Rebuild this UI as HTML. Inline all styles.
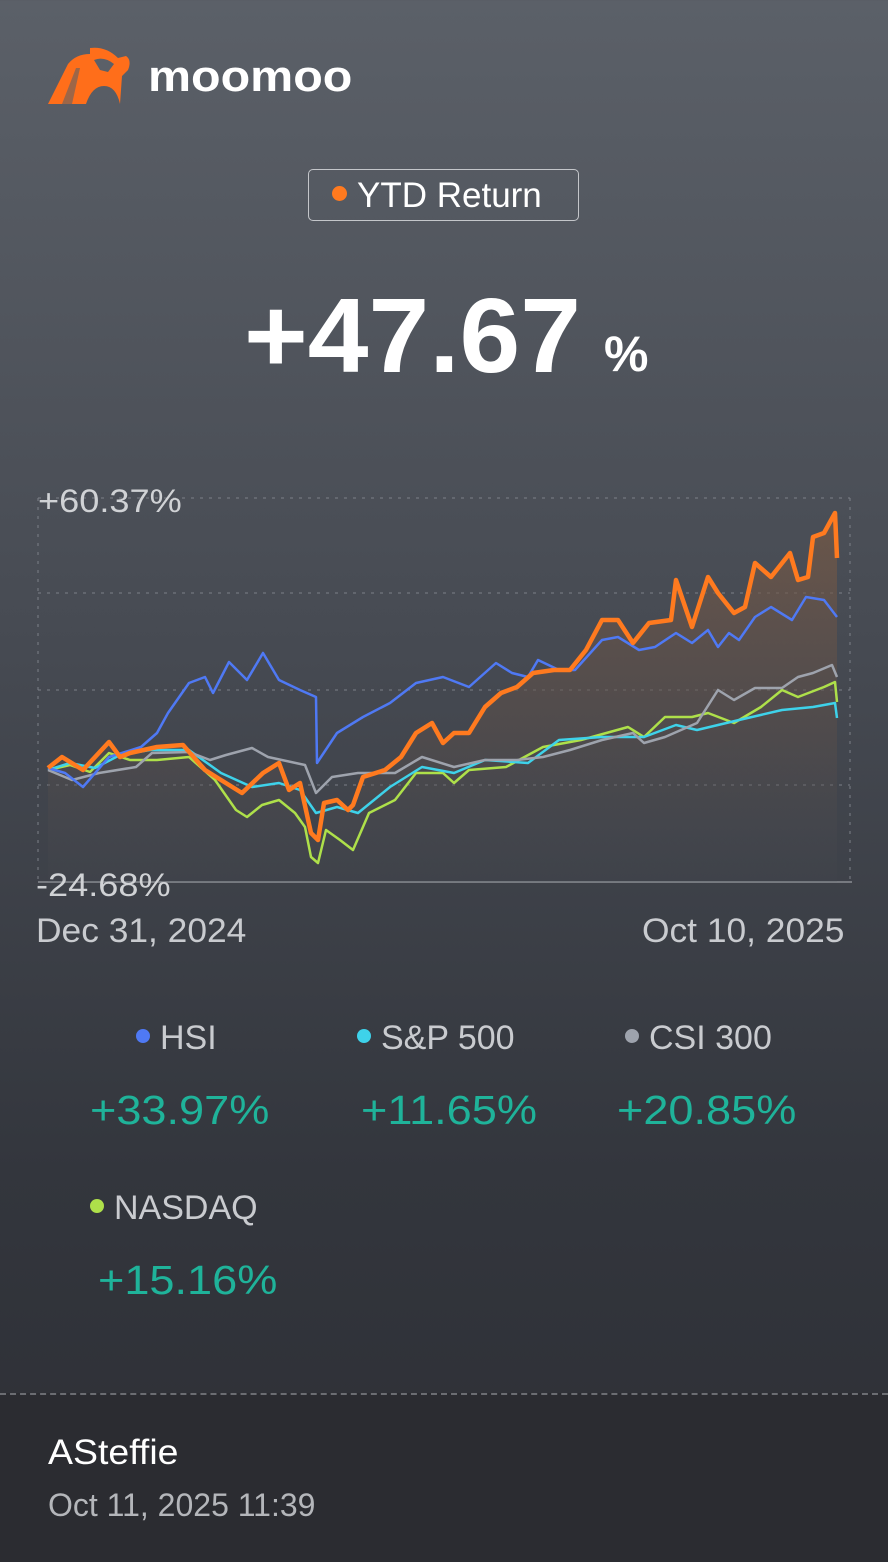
<!DOCTYPE html>
<html><head><meta charset="utf-8"><style>
html,body{margin:0;padding:0}
body{width:888px;height:1560px;position:relative;overflow:hidden;font-family:"Liberation Sans",sans-serif;background:linear-gradient(180deg,#5b6068 0%,#474b53 40%,#33363d 75%,#2d2f35 100%)}
.a{position:absolute;white-space:nowrap;transform-origin:left top}
.foot{position:absolute;left:0;top:1393px;width:888px;height:167px;background:#2b2c31;border-top:2px dashed #6b6d72}
.lab{color:#c9cbcf;font-size:34px}
.val{color:#1fb39a;font-size:41px;transform:scaleX(1.1)}
.dot{display:inline-block;width:14px;height:14px;border-radius:50%;margin-right:10px;vertical-align:middle;position:relative;top:-4px}
</style></head><body>
<svg class="a" style="left:46px;top:46px" width="90" height="62" viewBox="0 0 90 62">
<path d="M2 58 L22 18 Q30 8 44 8 L44 2 Q60 0 72 12 L80 10 Q86 14 82 24 L76 30 L74 58 Q70 40 58 40 Q46 40 40 58 Z" fill="#ff6e1a"/>
<path d="M16 58 L30 22 L34 22 L26 58 Z" fill="#5b6068" opacity=".6"/>
<path d="M48 14 Q58 10 68 18 L62 26 L54 24 Z" fill="#5b6068"/>
</svg>
<div class="a" style="left:148px;top:52px;font-size:44px;font-weight:bold;color:#fff;transform:scaleX(1.1)">moomoo</div>
<div class="a" style="left:308px;top:169px;width:271px;height:52px;border:1.5px solid #c4c6ca;border-radius:5px;box-sizing:border-box"></div>
<div class="a" style="left:332px;top:176px;font-size:35px;color:#fff"><span class="dot" style="background:#ff7a1f;width:15px;height:15px"></span>YTD Return</div>
<div class="a" style="left:244px;top:276px;font-size:106px;font-weight:bold;color:#fff;transform:scaleX(1.03)">+47.67</div>
<div class="a" style="left:604px;top:325px;font-size:50px;font-weight:bold;color:#fff">%</div>

<svg class="a" style="left:0;top:480px" width="888" height="420" viewBox="0 480 888 420">
<defs><linearGradient id="g" x1="0" y1="0" x2="0" y2="1"><stop offset="0" stop-color="#7a5a44" stop-opacity=".7"/><stop offset=".6" stop-color="#5a4e4a" stop-opacity=".5"/><stop offset="1" stop-color="#4a4c52" stop-opacity=".1"/></linearGradient></defs>
<g stroke="#7c8088" stroke-width="1" stroke-dasharray="3,6" fill="none">
<line x1="38" y1="498" x2="850" y2="498"/><line x1="38" y1="593" x2="850" y2="593"/><line x1="38" y1="690" x2="850" y2="690"/><line x1="38" y1="785" x2="850" y2="785"/>
<line x1="38" y1="498" x2="38" y2="882"/><line x1="850" y1="498" x2="850" y2="882"/>
</g>
<line x1="38" y1="882" x2="852" y2="882" stroke="#8a8d93" stroke-width="1.5"/>
<polygon fill="url(#g)" points="48,882 48,768 62,757 83,770 109,742 120,757 130,753 157,747 183,745 205,770 221,780 242,793 263,773 279,763 289,790 300,783 311,833 318,840 324,803 337,800 348,810 353,805 363,777 385,770 401,757 416,733 432,723 443,743 454,733 469,733 485,707 501,693 517,687 533,673 554,670 570,670 586,650 602,620 618,620 633,643 649,623 671,620 676,580 692,627 708,577 718,593 734,613 745,607 755,563 771,577 790,553 798,580 808,577 813,537 824,533 835,513 837,558 837,882"/>
<g fill="none" stroke-width="2.5" stroke-linejoin="round">
<polyline stroke="#aee04a" points="48,770 70,765 90,772 109,753 130,760 157,760 189,757 215,780 236,810 247,817 262,805 279,800 295,813 305,827 311,857 318,863 326,830 340,840 353,850 369,813 395,800 416,773 443,773 454,783 469,770 506,767 543,747 581,740 628,727 644,737 665,717 692,717 708,713 734,723 761,707 782,690 798,697 824,687 835,682 837,702"/>
<polyline stroke="#3ed2ea" points="48,770 70,763 95,768 120,755 150,750 189,750 221,773 252,787 279,783 300,790 316,813 337,807 358,813 390,787 422,767 454,773 485,760 528,763 559,740 602,737 644,737 676,725 697,730 739,720 782,710 813,707 835,703 837,718"/>
<polyline stroke="#9ea3ad" points="48,770 72,780 99,773 136,767 152,753 189,752 210,760 226,755 252,748 268,757 305,765 316,793 332,777 358,773 395,773 422,757 454,767 485,760 517,760 543,757 570,750 602,740 633,733 644,743 665,737 697,723 718,690 734,700 755,688 782,688 798,677 813,673 832,665 837,677"/>
<polyline stroke="#4f79f4" points="48,768 65,773 83,787 109,757 141,747 157,733 168,713 189,683 205,677 213,693 229,662 247,680 263,653 279,680 300,690 316,697 317,763 337,733 363,717 390,703 416,683 443,677 469,687 496,663 512,673 528,677 538,660 559,670 575,670 602,640 618,637 639,650 655,647 676,633 692,643 708,630 718,647 729,633 739,640 755,617 771,607 792,620 806,597 824,600 837,617"/>
<polyline stroke="#ff7a1f" stroke-width="4.5" points="48,768 62,757 83,770 109,742 120,757 130,753 157,747 183,745 205,770 221,780 242,793 263,773 279,763 289,790 300,783 311,833 318,840 324,803 337,800 348,810 353,805 363,777 385,770 401,757 416,733 432,723 443,743 454,733 469,733 485,707 501,693 517,687 533,673 554,670 570,670 586,650 602,620 618,620 633,643 649,623 671,620 676,580 692,627 708,577 718,593 734,613 745,607 755,563 771,577 790,553 798,580 808,577 813,537 824,533 835,513 837,558"/>
</g>
</svg>
<div class="a" style="left:38px;top:483px;font-size:32px;color:#d0d2d5;transform:scaleX(1.13)">+60.37%</div>
<div class="a" style="left:36px;top:867px;font-size:32px;color:#d0d2d5;transform:scaleX(1.13)">-24.68%</div>
<div class="a" style="left:36px;top:912px;font-size:34px;color:#c9cbcf;transform:scaleX(1.04)">Dec 31, 2024</div>
<div class="a" style="left:642px;top:912px;font-size:34px;color:#c9cbcf;transform:scaleX(1.04)">Oct 10, 2025</div>

<div class="a lab" style="left:136px;top:1019px"><span class="dot" style="background:#4f79f4"></span>HSI</div>
<div class="a lab" style="left:357px;top:1019px"><span class="dot" style="background:#3ed2ea"></span>S&amp;P 500</div>
<div class="a lab" style="left:625px;top:1019px"><span class="dot" style="background:#9ea3ad"></span>CSI 300</div>
<div class="a val" style="left:90px;top:1087px">+33.97%</div>
<div class="a val" style="left:361px;top:1087px">+11.65%</div>
<div class="a val" style="left:617px;top:1087px">+20.85%</div>
<div class="a lab" style="left:90px;top:1189px"><span class="dot" style="background:#aee04a"></span>NASDAQ</div>
<div class="a val" style="left:98px;top:1257px">+15.16%</div>

<div class="foot"></div>
<div class="a" style="left:48px;top:1433px;font-size:35px;color:#fff;transform:scaleX(1.07)">ASteffie</div>
<div class="a" style="left:48px;top:1487px;font-size:32px;color:#b4b6ba">Oct 11, 2025 11:39</div>
</body></html>
